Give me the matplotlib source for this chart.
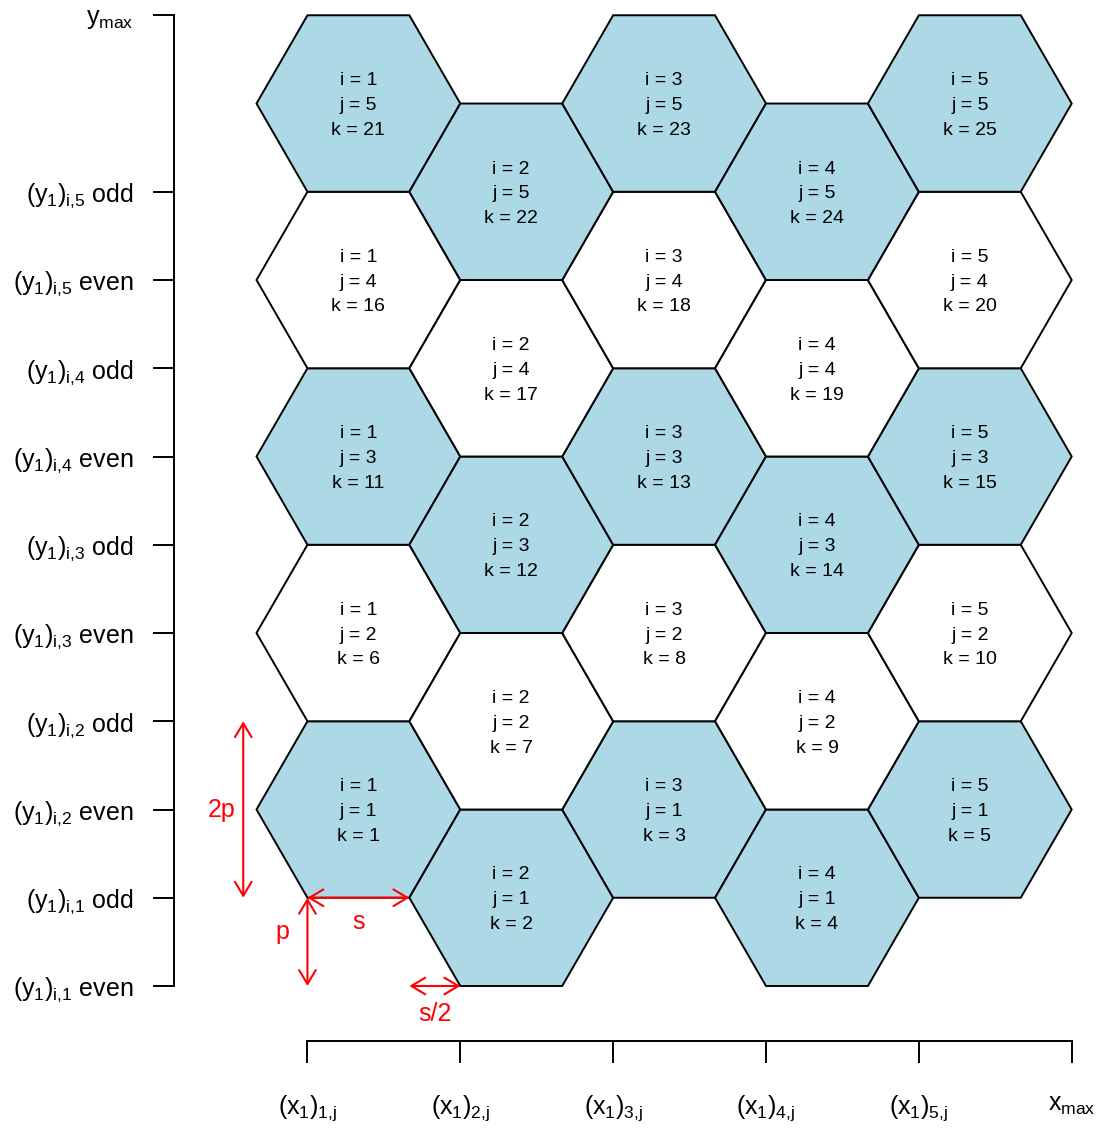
import numpy as np
import matplotlib
matplotlib.use("Agg")
import matplotlib.pyplot as plt
from matplotlib.patches import Polygon

plt.rcParams['font.family'] = ['Liberation Sans', 'DejaVu Sans']
plt.rcParams['mathtext.fontset'] = 'custom'
plt.rcParams['mathtext.rm'] = 'Liberation Sans'
plt.rcParams['mathtext.it'] = 'Liberation Sans'
plt.rcParams['mathtext.bf'] = 'Liberation Sans:bold'

# ---- data ----
s = 1.0                      # hexagon side
p = s * np.sqrt(3) / 2       # half height
n_cols = 5
n_rows = 5
col_index = [1, 2, 3, 4, 5]
row_index = [1, 2, 3, 4, 5]
row_fill = ['#ADD8E6', 'white', '#ADD8E6', 'white', '#ADD8E6']

x_tick_pos = [0.5, 2.0, 3.5, 5.0, 6.5, 8.0]
x_tick_labels = [r'$(x_1)_{1{,}j}$', r'$(x_1)_{2{,}j}$', r'$(x_1)_{3{,}j}$',
                 r'$(x_1)_{4{,}j}$', r'$(x_1)_{5{,}j}$', r'$x_{max}$']
y_tick_mult = [0, 1, 2, 3, 4, 5, 6, 7, 8, 9, 11]
y_tick_labels = [r'$(y_1)_{i{,}1}$ even', r'$(y_1)_{i{,}1}$ odd',
                 r'$(y_1)_{i{,}2}$ even', r'$(y_1)_{i{,}2}$ odd',
                 r'$(y_1)_{i{,}3}$ even', r'$(y_1)_{i{,}3}$ odd',
                 r'$(y_1)_{i{,}4}$ even', r'$(y_1)_{i{,}4}$ odd',
                 r'$(y_1)_{i{,}5}$ even', r'$(y_1)_{i{,}5}$ odd',
                 r'$y_{max}$']

# ---- figure / axes ----
W, H = 1107, 1128
fig = plt.figure(figsize=(W / 100, H / 100), dpi=100)
scale = 101.9
ox, oy = 256.5, 986.0   # pixel of data origin (from top-left)
xl, xr = -0.81, 8.25
yb, yt = -0.54, 9.66
left = (ox + xl * scale) / W
width = (xr - xl) * scale / W
bottom = (H - (oy - yb * scale)) / H
height = (yt - yb) * scale / H
ax = fig.add_axes([left, bottom, width, height])
ax.set_xlim(xl, xr)
ax.set_ylim(yb, yt)

# hexagons
for j_i, j in enumerate(row_index):
    for i in col_index:
        k = (j - 1) * n_cols + i
        cx = s + 1.5 * s * (i - 1)
        cy = (2 * p if i % 2 == 1 else p) + 2 * p * (j - 1)
        verts = [(cx - s, cy), (cx - s / 2, cy + p), (cx + s / 2, cy + p),
                 (cx + s, cy), (cx + s / 2, cy - p), (cx - s / 2, cy - p)]
        ax.add_patch(Polygon(verts, closed=True, facecolor=row_fill[j_i],
                             edgecolor='black', linewidth=1.4, zorder=2))
        ax.text(cx, cy - 0.02, f"i = {i}\nj = {j}\nk = {k}", ha='center', va='center',
                fontsize=14, linespacing=1.6, color='black', zorder=3)

# red annotations
red = '#FF0000'
aprops = dict(arrowstyle='<->,head_length=0.5,head_width=0.3', color=red,
              lw=1.5, shrinkA=0, shrinkB=0, mutation_scale=20)
ax.annotate('', xy=(-0.13, p), xytext=(-0.13, 3 * p), arrowprops=aprops, annotation_clip=False)
ax.text(-0.34, 2 * p, '2p', color=red, fontsize=18, ha='center', va='center')
ax.annotate('', xy=(0.5, 0), xytext=(0.5, p), arrowprops=aprops, annotation_clip=False)
ax.text(0.25, 0.53, 'p', color=red, fontsize=18, ha='center', va='center')
ax.annotate('', xy=(0.5, p), xytext=(1.5, p), arrowprops=aprops, annotation_clip=False)
ax.text(1.0, 0.63, 's', color=red, fontsize=18, ha='center', va='center')
ax.annotate('', xy=(1.5, 0), xytext=(2.0, 0), arrowprops=aprops, annotation_clip=False)
ax.text(1.75, -0.27, 's/2', color=red, fontsize=18, ha='center', va='center')

# axes styling
for side in ['top', 'right']:
    ax.spines[side].set_visible(False)
ax.spines['left'].set_bounds(0, 11 * p)
ax.spines['bottom'].set_bounds(0.5, 8.0)
ax.spines['left'].set_linewidth(1.4)
ax.spines['bottom'].set_linewidth(1.4)
ax.set_xticks(x_tick_pos)
ax.set_xticklabels(x_tick_labels)
ax.set_yticks([m * p for m in y_tick_mult])
ax.set_yticklabels(y_tick_labels)
ax.tick_params(axis='y', length=15, width=1.4, pad=14, labelsize=18)
ax.tick_params(axis='x', length=15.5, width=1.4, pad=22, labelsize=18)
ax.set_facecolor('none')

fig.savefig('out.png', dpi=100)
